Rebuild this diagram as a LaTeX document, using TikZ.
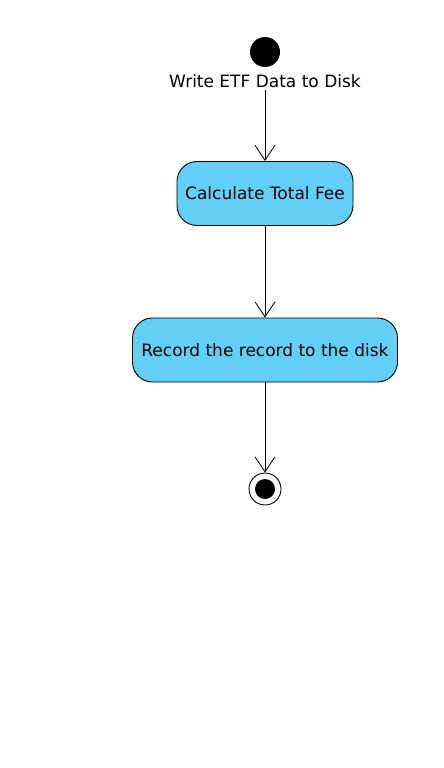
\documentclass[tikz,border=0pt]{standalone}
\usepackage{fontspec}
\setmainfont{DejaVu Sans}
\usetikzlibrary{arrows.meta}
\definecolor{actfill}{RGB}{98,207,246}
\tikzset{
  activity/.style={draw=black, line width=0.9pt, fill=actfill, rounded corners=20pt,
    minimum height=64pt, inner xsep=0pt, font=\fontsize{17}{20}\selectfont},
  flow/.style={draw=black, line width=0.8pt, -{Straight Barb[length=15pt,width=20pt]}}
}

\begin{document}
\begin{tikzpicture}[x=1pt, y=-1pt]
			%%%%% START %%%%%
			\useasboundingbox (0, 0) rectangle (444, 768);
			
			\node[circle, fill=black, minimum size=30pt, inner sep=0pt] (start) at (265, 52) {};
			\node[font=\fontsize{17}{20}\selectfont, inner ysep=2pt] (title) at (265, 81) {Write ETF Data to Disk};
			
			\node[activity, minimum width=176pt] (calc) at (265, 193.5) {Calculate Total Fee};
			\node[activity, minimum width=265pt] (record) at (265, 350) {Record the record to the disk};
			
			\node[circle, draw=black, line width=0.9pt, minimum size=32pt, inner sep=0pt] (stop) at (265, 489) {};
			\node[circle, fill=black, minimum size=20pt, inner sep=0pt] (stopdot) at (stop) {};
			
			\draw[flow] (title.south) -- (calc.north);
			\draw[flow] (calc.south) -- (record.north);
			\draw[flow] (record.south) -- (stop.north);
			
			%%%%% END %%%%%
		\end{tikzpicture}
\end{document}
